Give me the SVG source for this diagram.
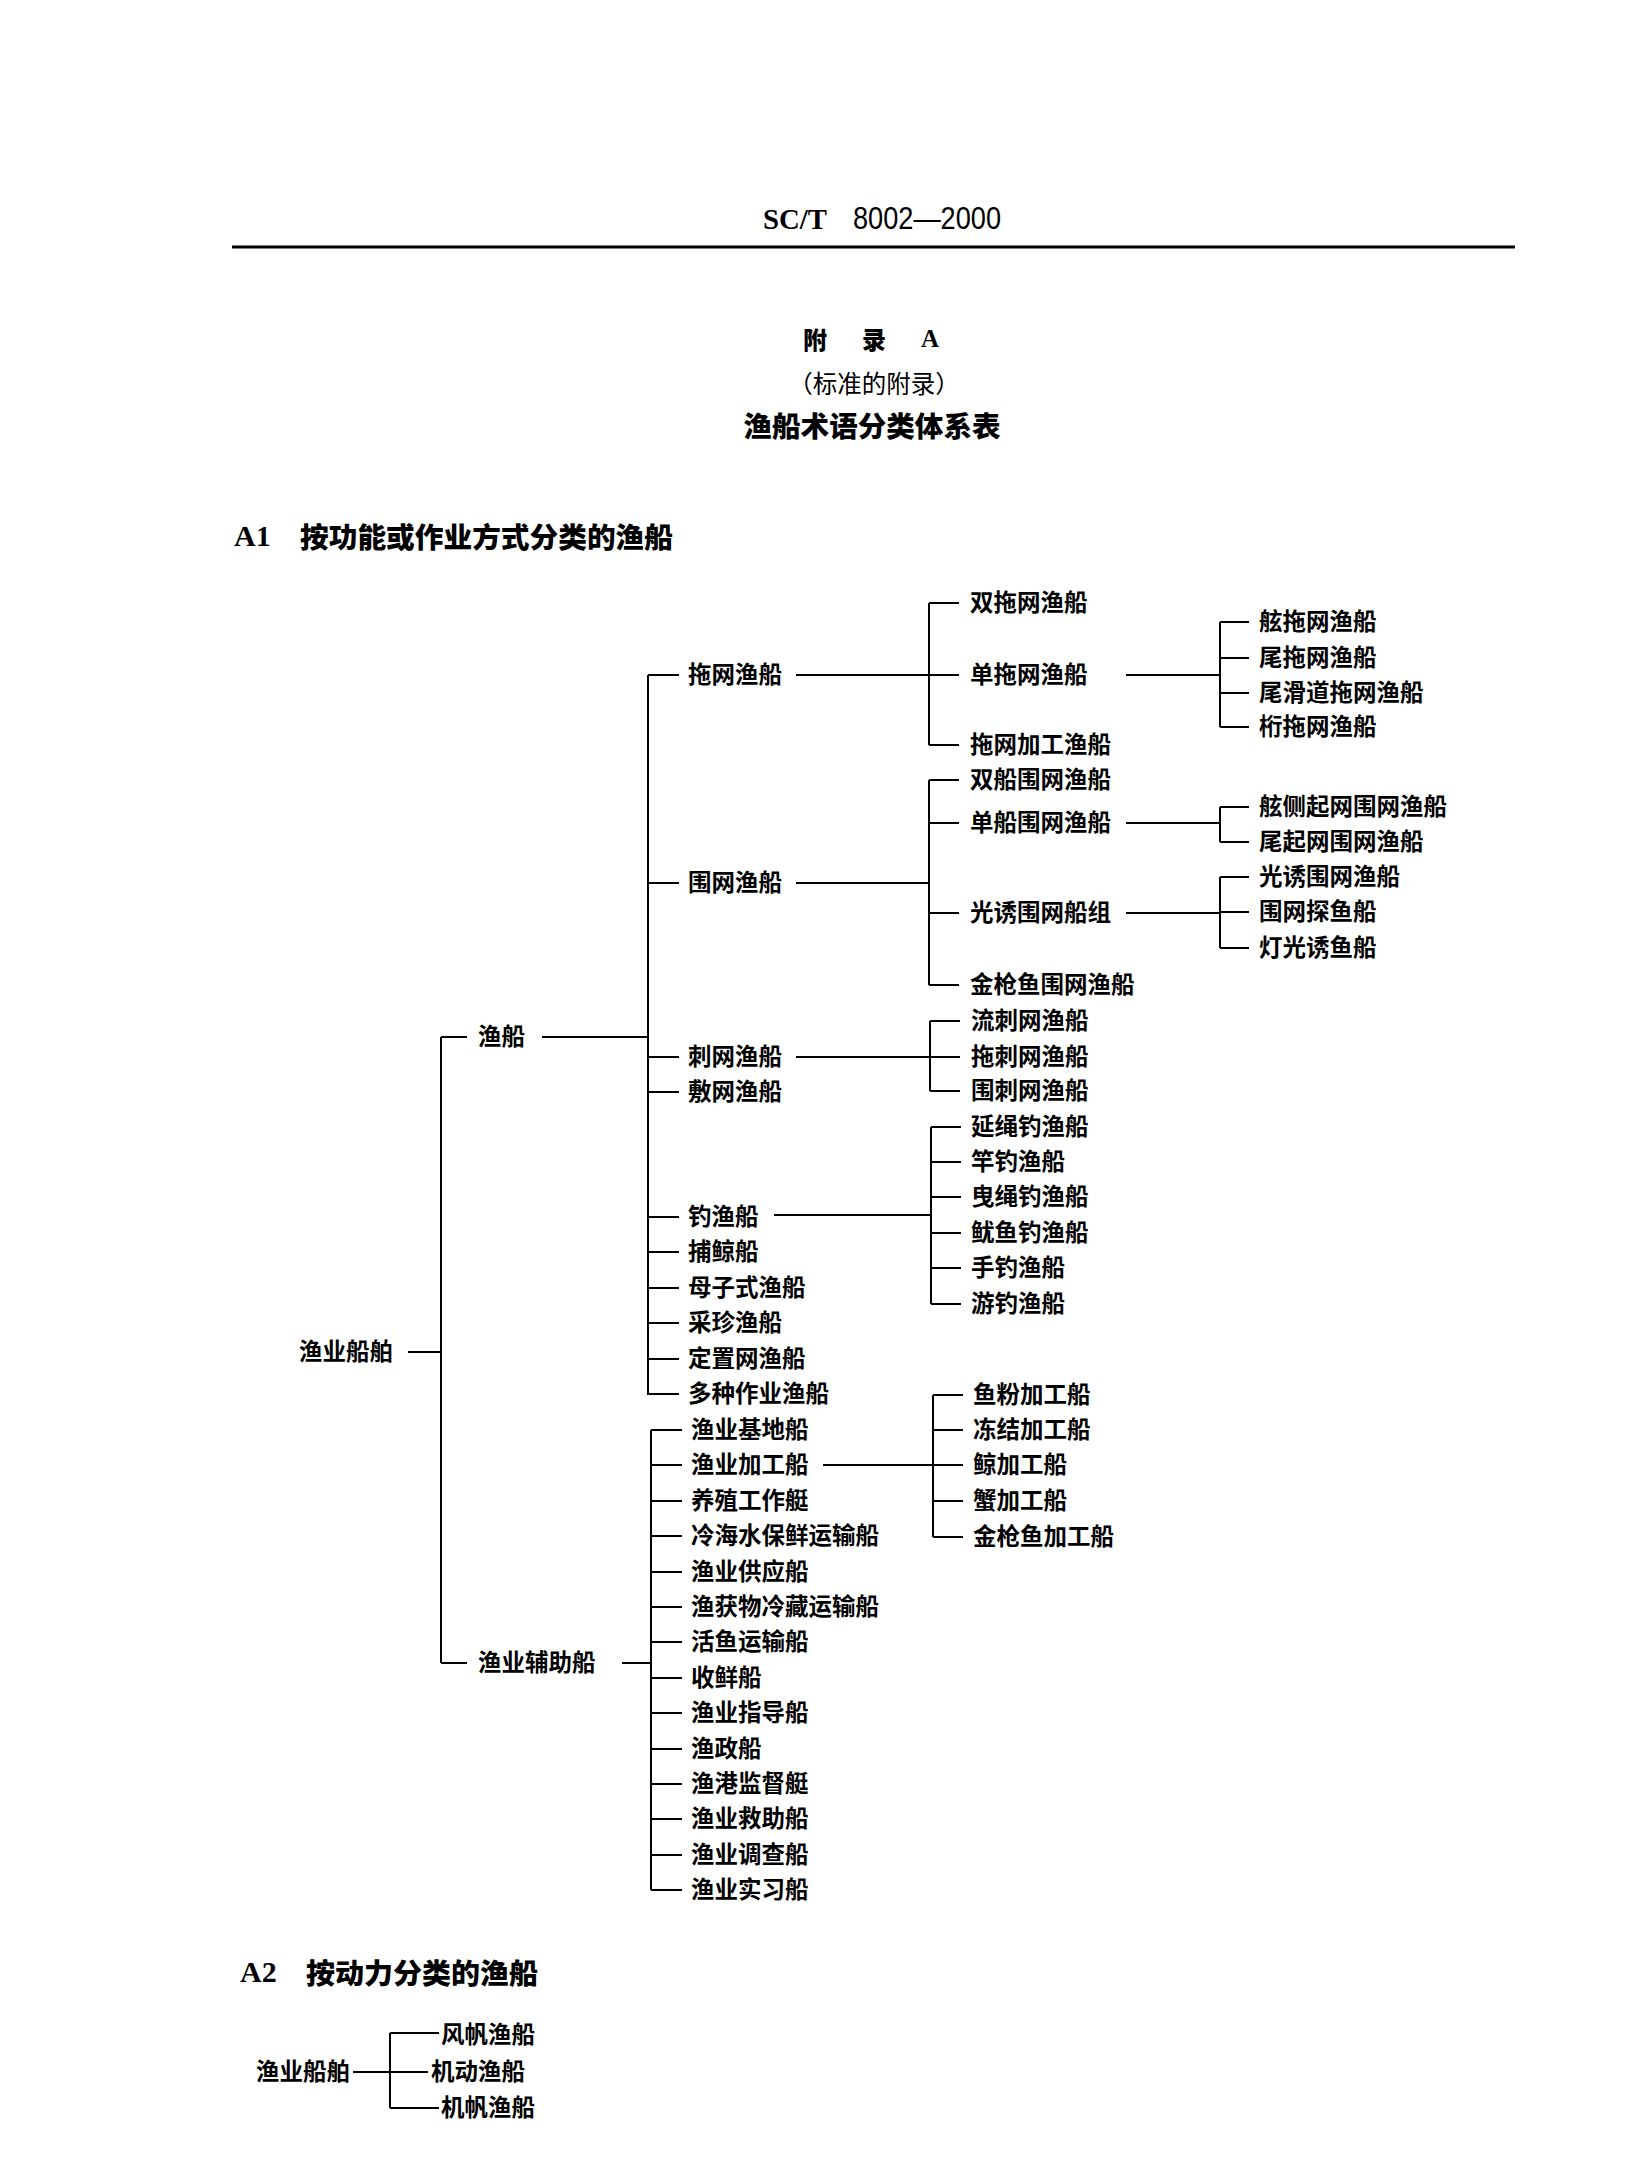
<svg xmlns="http://www.w3.org/2000/svg" width="1645" height="2177" viewBox="0 0 1645 2177">
<style>
text{fill:#000}
.l{font-family:"Noto Sans CJK SC","Noto Sans CJK TC",sans-serif;font-size:23.5px;font-weight:700;dominant-baseline:central}
.h{font-family:"Noto Sans CJK SC",sans-serif;font-weight:900;dominant-baseline:central}
.s{font-family:"Liberation Serif",serif;font-weight:700;dominant-baseline:central}
.c{fill:none;stroke:#000;stroke-width:2}
</style>
<rect width="1645" height="2177" fill="#fff"/>
<g id="header">
<text x="763" y="229" font-family="Liberation Serif,serif" font-weight="700" font-size="29" textLength="64" lengthAdjust="spacingAndGlyphs">SC/T</text>
<text x="853" y="229" font-family="Liberation Sans,sans-serif" font-size="31" textLength="148" lengthAdjust="spacingAndGlyphs">8002—2000</text>
<line x1="232" y1="247" x2="1515" y2="247" stroke="#000" stroke-width="3"/>
</g>
<g id="title">
<text class="h" x="803" y="338" font-size="24">附</text>
<text class="h" x="862" y="338" font-size="24">录</text>
<text class="s" x="921" y="338" font-size="25">A</text>
<text x="874" y="382" text-anchor="middle" font-family="Noto Sans CJK SC,sans-serif" font-size="24.5" dominant-baseline="central">（标准的附录）</text>
<text class="h" x="872" y="424" text-anchor="middle" font-size="28.5" textLength="257" lengthAdjust="spacingAndGlyphs">渔船术语分类体系表</text>
</g>
<g id="heading-a1">
<text class="s" x="234" y="535" font-size="30">A1</text>
<text class="h" x="300" y="535" font-size="28.5" textLength="373" lengthAdjust="spacingAndGlyphs">按功能或作业方式分类的渔船</text>
</g>
<g id="heading-a2">
<text class="s" x="240" y="1971" font-size="30">A2</text>
<text class="h" x="306" y="1971" font-size="28.5" textLength="232" lengthAdjust="spacingAndGlyphs">按动力分类的渔船</text>
</g>
<g id="connectors" class="c">
<path d="M408,1352H441M441,1037V1663M441,1037H467M441,1663H467M542,1037H648M648,675V1395M622,1663H651M651,1430V1890"/>
<path d="M648,675H679M648,883H679M648,1057H679M648,1092H679M648,1217H679M648,1252H679M648,1288H679M648,1323H679M648,1359H679M648,1394H679"/>
<path d="M651,1430H682M651,1465H682M651,1501H682M651,1536H682M651,1572H682M651,1607H682M651,1642H682M651,1678H682M651,1713H682M651,1749H682M651,1784H682M651,1819H682M651,1855H682M651,1890H682"/>
<path d="M796,675H929M929,603V745M929,603H959M929,675H959M929,745H959"/>
<path d="M1126,675H1220M1220,622V727M1220,622H1249M1220,658H1249M1220,693H1249M1220,727H1249"/>
<path d="M796,883H929M929,780V985M929,780H959M929,823H959M929,913H959M929,985H959"/>
<path d="M1126,823H1220M1220,807V842M1220,807H1249M1220,842H1249"/>
<path d="M1126,913H1220M1220,877V948M1220,877H1249M1220,912H1249M1220,948H1249"/>
<path d="M796,1057H930M930,1021V1091M930,1021H960M930,1057H960M930,1091H960"/>
<path d="M774,1215H931M931,1127V1304M931,1127H961M931,1162H961M931,1197H961M931,1233H961M931,1268H961M931,1304H961"/>
<path d="M823,1465H933M933,1395V1537M933,1395H963M933,1430H963M933,1465H963M933,1501H963M933,1537H963"/>
<path d="M353,2072H428M390,2033V2108M390,2033H439M390,2108H439"/>
</g>
<g transform="translate(0,-2)">
<g id="n-root"><text class="l" x="299" y="1352">渔业船舶</text></g>
<g id="n-yuchuan"><text class="l" x="478" y="1037">渔船</text></g>
<g id="n-fuzhu"><text class="l" x="478" y="1663">渔业辅助船</text></g>
<g id="n-tuowang"><text class="l" x="688" y="675">拖网渔船</text></g>
<g id="n-weiwang"><text class="l" x="688" y="883">围网渔船</text></g>
<g id="n-ciwang"><text class="l" x="688" y="1057">刺网渔船</text></g>
<g id="n-fuwang"><text class="l" x="688" y="1092">敷网渔船</text></g>
<g id="n-diao"><text class="l" x="688" y="1217">钓渔船</text></g>
<g id="n-bujing"><text class="l" x="688" y="1252">捕鲸船</text></g>
<g id="n-muzi"><text class="l" x="688" y="1288">母子式渔船</text></g>
<g id="n-caizhen"><text class="l" x="688" y="1323">采珍渔船</text></g>
<g id="n-dingzhi"><text class="l" x="688" y="1359">定置网渔船</text></g>
<g id="n-duozhong"><text class="l" x="688" y="1394">多种作业渔船</text></g>
<g id="n-jidi"><text class="l" x="691" y="1430">渔业基地船</text></g>
<g id="n-jiagong"><text class="l" x="691" y="1465">渔业加工船</text></g>
<g id="n-yangzhi"><text class="l" x="691" y="1501">养殖工作艇</text></g>
<g id="n-lenghai"><text class="l" x="691" y="1536">冷海水保鲜运输船</text></g>
<g id="n-gongying"><text class="l" x="691" y="1572">渔业供应船</text></g>
<g id="n-yuhuo"><text class="l" x="691" y="1607">渔获物冷藏运输船</text></g>
<g id="n-huoyu"><text class="l" x="691" y="1642">活鱼运输船</text></g>
<g id="n-shouxian"><text class="l" x="691" y="1678">收鲜船</text></g>
<g id="n-zhidao"><text class="l" x="691" y="1713">渔业指导船</text></g>
<g id="n-yuzheng"><text class="l" x="691" y="1749">渔政船</text></g>
<g id="n-jiandu"><text class="l" x="691" y="1784">渔港监督艇</text></g>
<g id="n-jiuzhu"><text class="l" x="691" y="1819">渔业救助船</text></g>
<g id="n-diaocha"><text class="l" x="691" y="1855">渔业调查船</text></g>
<g id="n-shixi"><text class="l" x="691" y="1890">渔业实习船</text></g>
<g id="n-shuangtuo"><text class="l" x="970" y="603">双拖网渔船</text></g>
<g id="n-dantuo"><text class="l" x="970" y="675">单拖网渔船</text></g>
<g id="n-tuojiagong"><text class="l" x="970" y="745">拖网加工渔船</text></g>
<g id="n-xiantuo"><text class="l" x="1259" y="622">舷拖网渔船</text></g>
<g id="n-weituo"><text class="l" x="1259" y="658">尾拖网渔船</text></g>
<g id="n-weihuadao"><text class="l" x="1259" y="693">尾滑道拖网渔船</text></g>
<g id="n-hengtuo"><text class="l" x="1259" y="727">桁拖网渔船</text></g>
<g id="n-shuangwei"><text class="l" x="970" y="780">双船围网渔船</text></g>
<g id="n-danwei"><text class="l" x="970" y="823">单船围网渔船</text></g>
<g id="n-guangyouzu"><text class="l" x="970" y="913">光诱围网船组</text></g>
<g id="n-jinqiangwei"><text class="l" x="970" y="985">金枪鱼围网渔船</text></g>
<g id="n-xiance"><text class="l" x="1259" y="807">舷侧起网围网渔船</text></g>
<g id="n-weiqi"><text class="l" x="1259" y="842">尾起网围网渔船</text></g>
<g id="n-guangyouwei"><text class="l" x="1259" y="877">光诱围网渔船</text></g>
<g id="n-tanyu"><text class="l" x="1259" y="912">围网探鱼船</text></g>
<g id="n-dengguang"><text class="l" x="1259" y="948">灯光诱鱼船</text></g>
<g id="n-liuci"><text class="l" x="971" y="1021">流刺网渔船</text></g>
<g id="n-tuoci"><text class="l" x="971" y="1057">拖刺网渔船</text></g>
<g id="n-weici"><text class="l" x="971" y="1091">围刺网渔船</text></g>
<g id="n-yansheng"><text class="l" x="971" y="1127">延绳钓渔船</text></g>
<g id="n-gandiao"><text class="l" x="971" y="1162">竿钓渔船</text></g>
<g id="n-yesheng"><text class="l" x="971" y="1197">曳绳钓渔船</text></g>
<g id="n-youyu"><text class="l" x="971" y="1233">鱿鱼钓渔船</text></g>
<g id="n-shoudiao"><text class="l" x="971" y="1268">手钓渔船</text></g>
<g id="n-youdiao"><text class="l" x="971" y="1304">游钓渔船</text></g>
<g id="n-yufen"><text class="l" x="973" y="1395">鱼粉加工船</text></g>
<g id="n-dongjie"><text class="l" x="973" y="1430">冻结加工船</text></g>
<g id="n-jingjg"><text class="l" x="973" y="1465">鲸加工船</text></g>
<g id="n-xiejg"><text class="l" x="973" y="1501">蟹加工船</text></g>
<g id="n-jinqiangjg"><text class="l" x="973" y="1537">金枪鱼加工船</text></g>
<g id="n2-root"><text class="l" x="256" y="2072">渔业船舶</text></g>
<g id="n2-fengfan"><text class="l" x="441" y="2035">风帆渔船</text></g>
<g id="n2-jidong"><text class="l" x="431" y="2072">机动渔船</text></g>
<g id="n2-jifan"><text class="l" x="441" y="2108">机帆渔船</text></g>
</g>
</svg>
